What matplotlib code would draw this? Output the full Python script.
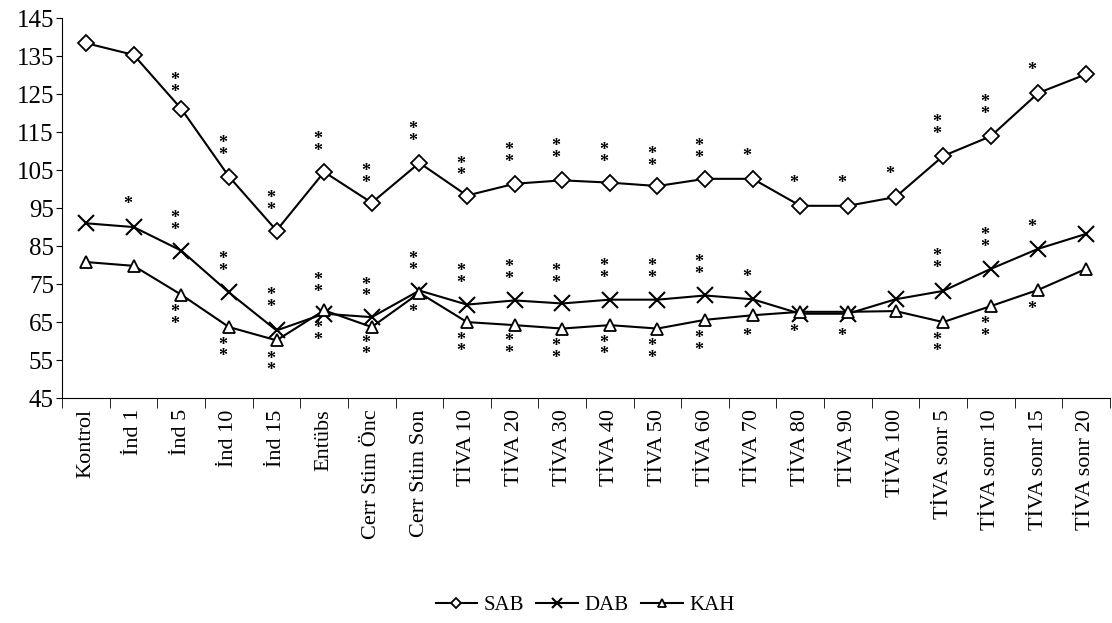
import matplotlib
matplotlib.use("Agg")
import matplotlib.pyplot as plt
import numpy as np

categories = ["Kontrol", "İnd 1", "İnd 5", "İnd 10", "İnd 15", "Entübs",
              "Cerr Stim Önc", "Cerr Stim Son", "TİVA 10", "TİVA 20", "TİVA 30",
              "TİVA 40", "TİVA 50", "TİVA 60", "TİVA 70", "TİVA 80", "TİVA 90",
              "TİVA 100", "TİVA sonr 5", "TİVA sonr 10", "TİVA sonr 15", "TİVA sonr 20"]

sab = [138.4, 135.3, 121.1, 103.3, 89.1, 104.5, 96.4, 106.9, 98.3, 101.4, 102.3,
       101.7, 100.8, 102.7, 102.7, 95.6, 95.6, 97.9, 108.7, 113.9, 125.3, 130.2]
dab = [91.0, 90.0, 83.8, 72.8, 62.8, 67.2, 66.3, 73.3, 69.6, 70.7, 69.9,
       70.9, 70.9, 72.0, 71.0, 67.2, 67.2, 71.0, 73.2, 79.0, 84.3, 88.2]
kah = [80.8, 79.8, 72.2, 63.7, 60.2, 68.1, 63.7, 72.7, 65.0, 64.2, 63.3,
       64.2, 63.3, 65.6, 66.8, 67.7, 67.7, 67.9, 65.0, 69.2, 73.5, 79.0]

# significance marks: (category index, y value, text)
sig_sab = [(2, 127, "**"), (3, 110.5, "**"), (4, 96, "**"), (5, 111.5, "**"),
           (6, 103, "**"), (7, 114, "**"), (8, 105, "**"), (9, 108.5, "**"),
           (10, 109.7, "**"), (11, 108.5, "**"), (12, 107.5, "**"), (13, 109.7, "**"),
           (14, 108.7, "*"), (15, 101.6, "*"), (16, 101.6, "*"), (17, 103.8, "*"),
           (18, 116, "**"), (19, 121.3, "**"), (20, 131.2, "*")]
sig_dab = [(1, 96, "*"), (2, 90.6, "**"), (3, 79.8, "**"), (4, 70.5, "**"),
           (5, 74.3, "**"), (6, 73.2, "**"), (7, 80, "**"), (8, 76.7, "**"),
           (9, 77.8, "**"), (10, 76.8, "**"), (11, 78, "**"), (12, 78, "**"),
           (13, 79, "**"), (14, 76.8, "*"), (18, 80.6, "**"), (19, 86.3, "**"),
           (20, 90, "*")]
sig_kah = [(2, 65.9, "**"), (3, 57.4, "**"), (4, 53.7, "**"), (5, 61.8, "**"),
           (6, 57.9, "**"), (7, 67.5, "*"), (8, 58.7, "**"), (9, 58.3, "**"),
           (10, 56.9, "**"), (11, 57.9, "**"), (12, 56.9, "**"), (13, 59.2, "**"),
           (14, 61.2, "*"), (15, 62.2, "*"), (16, 61.2, "*"), (18, 58.7, "**"),
           (19, 62.8, "**"), (20, 68.3, "*")]

yticks = list(range(45, 146, 10))

plt.rcParams['font.family'] = ['Liberation Serif', 'DejaVu Serif']

n = len(sab)

fig = plt.figure(figsize=(11.12, 6.23), dpi=100)
ax = fig.add_axes([0.056, 0.361, 0.942, 0.610])
x = np.arange(n)

ax.plot(x, sab, color='black', lw=1.5, marker='D', ms=8, mfc='white', mec='black', mew=1.3, label='SAB')
ax.plot(x, dab, color='black', lw=1.5, marker='x', ms=11, mew=1.5, label='DAB')
ax.plot(x, kah, color='black', lw=1.5, marker='^', ms=9, mfc='white', mec='black', mew=1.3, label='KAH')

for grp in (sig_sab, sig_dab, sig_kah):
    for i, yv, t in grp:
        txt = "\n".join(list(t))
        ax.text(i - 0.13, yv, txt, ha='center', va='center', fontsize=13,
                linespacing=0.6, fontweight='bold')

ax.set_xlim(-0.5, n - 0.5)
ax.set_ylim(45, 145)
ax.set_yticks(yticks)
ax.tick_params(axis='y', labelsize=18, length=4, direction='out', pad=2)
ax.set_xticks(x)
ax.set_xticklabels(categories, rotation=90, fontsize=16)
ax.tick_params(axis='x', length=0, pad=8)
ax.set_xticks(np.arange(-0.5, n, 1), minor=True)
ax.tick_params(axis='x', which='minor', length=7, direction='out')
ax.spines['top'].set_visible(False)
ax.spines['right'].set_visible(False)

leg = fig.legend(loc='center', bbox_to_anchor=(0.526, 0.028), ncol=3, frameon=False,
                 fontsize=15, handlelength=2.0, columnspacing=0.6, handletextpad=0.3,
                 markerscale=0.7)
fig.savefig("out.png", dpi=100)
